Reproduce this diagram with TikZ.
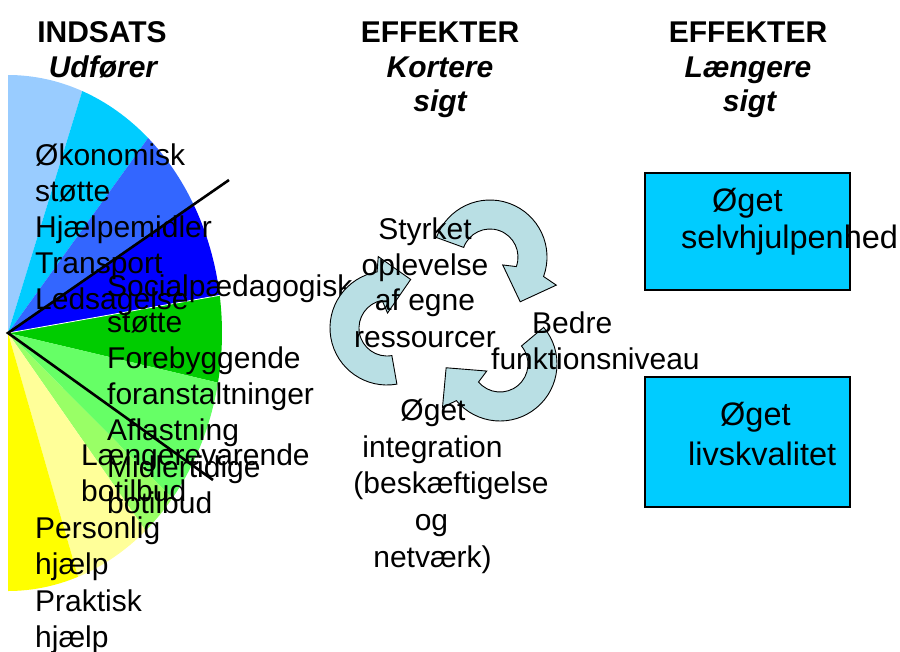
\documentclass[tikz,border=0pt]{standalone}
\usepackage{fontspec}
\setmainfont{Liberation Sans}
\definecolor{pA}{HTML}{99CCFF}
\definecolor{pB}{HTML}{00CCFF}
\definecolor{pC}{HTML}{3366FF}
\definecolor{pD}{HTML}{0000FF}
\definecolor{pE}{HTML}{00CC00}
\definecolor{pF}{HTML}{66FF66}
\definecolor{pG}{HTML}{99FF66}
\definecolor{pH}{HTML}{FFFF99}
\definecolor{pI}{HTML}{FFFF00}
\definecolor{arrowfill}{HTML}{B9DFE4}
\definecolor{boxfill}{HTML}{00CCFF}
\newcommand{\cycarrow}[3]{%
  \begin{scope}[shift={(#1,#2)}, rotate=#3]
    \draw[cyc] (160:57pt) arc[start angle=160, end angle=-20, radius=57pt]
      -- (-23:72pt) -- (-56:54pt) -- (-32:15pt) -- (-20:28pt)
      arc[start angle=-20, end angle=160, radius=28pt] -- cycle;
  \end{scope}}
\begin{document}
\begin{tikzpicture}[x=1pt,y=1pt,
  txt/.style={font=\fontsize{30}{36}\selectfont, inner sep=0pt, text=black},
  btxt/.style={txt, font=\fontsize{32.5}{38}\selectfont},
  hdr/.style={txt, font=\fontsize{30}{36}\selectfont\bfseries},
  hdri/.style={txt, font=\fontsize{30}{36}\selectfont\bfseries\itshape},
  cyc/.style={fill=arrowfill, draw=black, line width=0.9pt, line join=miter},
  effbox/.style={draw=black, fill=boxfill, line width=1.5pt, inner sep=0pt},
  divider/.style={line width=2.6pt, black, line join=miter}]
\useasboundingbox (0,0) rectangle (900,-651);

% ---------------- pie ----------------
\coordinate (pc) at (8,-333);
\begin{scope}[shift={(8,-333)}]
  \foreach \a/\b/\c in {90/69.7/pA, 69.7/49.1/pB, 49.1/30/pC, 30/8.4/pD,
      8.4/-11.1/pE, -11.1/-39.8/pF, -39.8/-50/pG, -50/-70.9/pH, -70.9/-90/pI}
    \fill[\c] (0,0) -- (\a:214pt and 258pt)
      arc[start angle=\a, end angle=\b, x radius=214pt, y radius=258pt] -- cycle;
  \draw[white, line width=0.8pt] (0,0) -- (8.4:214pt and 258pt);
\end{scope}
\coordinate (l1) at (229,-180);
\coordinate (l2) at (213,-480);
\draw[divider] (l1) -- (pc) -- (l2);

% ---------------- pie labels ----------------
\foreach \t [count=\i] in {{Økonomisk},{støtte},{Hjælpemidler},{Transport},{Ledsagelse}}
  \node[txt, anchor=base west] (ua\i) at (35,{-165-36.2*(\i-1)}) {\t};
\foreach \t [count=\i] in {{Socialpædagogisk},{støtte},{Forebyggende},{foranstaltninger},{Aflastning},{Midlertidige},{botilbud}}
  \node[txt, anchor=base west] (ub\i) at (107,{-296-36.2*(\i-1)}) {\t};
\foreach \t [count=\i] in {{Længerevarende},{botilbud}}
  \node[txt, anchor=base west] (uc\i) at (81,{-465-36*(\i-1)}) {\t};
\foreach \t [count=\i] in {{Personlig},{hjælp},{Praktisk},{hjælp}}
  \node[txt, anchor=base west] (ud\i) at (35,{-538-36.5*(\i-1)}) {\t};

% ---------------- cycle arrows ----------------
\cycarrow{490}{-257}{0}
\cycarrow{387}{-328}{120}
\cycarrow{500}{-364}{-120}

% ---------------- cycle texts ----------------
\foreach \t/\y [count=\i] in {{Styrket}/239,{oplevelse}/275,{af egne}/310,{ressourcer}/347}
  \node[txt, anchor=base] (ka\i) at (425,-\y) {\t};
\node[txt, anchor=base west] (kb1) at (532,-333) {Bedre};
\node[txt, anchor=base west] (kb2) at (491,-369) {funktionsniveau};
\node[txt, anchor=base] (kc1) at (433,-420) {Øget};
\node[txt, anchor=base] (kc2) at (432.5,-457) {integration};
\node[txt, anchor=base] (kc3) at (451,-493) {(beskæftigelse};
\node[txt, anchor=base] (kc4) at (431.5,-530) {og};
\node[txt, anchor=base] (kc5) at (432.5,-567) {netværk)};

% ---------------- headers ----------------
\node[hdr, anchor=base] (h1) at (102,-42) {INDSATS};
\node[hdri, anchor=base] (h1b) at (103,-77) {Udfører};
\node[hdr, anchor=base] (h2) at (440,-42) {EFFEKTER};
\node[hdri, anchor=base] (h2b) at (440,-77) {Kortere};
\node[hdri, anchor=base] (h2c) at (440,-111) {sigt};
\node[hdr, anchor=base] (h3) at (748,-42) {EFFEKTER};
\node[hdri, anchor=base] (h3b) at (748,-77) {Længere};
\node[hdri, anchor=base] (h3c) at (749.5,-111) {sigt};

% ---------------- effect boxes ----------------
\node[effbox, minimum width=205pt, minimum height=117pt] (bx1) at (747.5,-231.5) {};
\node[effbox, minimum width=205pt, minimum height=130pt] (bx2) at (747.5,-442) {};
\node[btxt, anchor=base west] (bt1) at (712,-211) {Øget};
\node[btxt, anchor=base west] (bt2) at (681,-248) {selvhjulpenhed};
\node[btxt, anchor=base west] (bt3) at (720,-425) {Øget};
\node[btxt, anchor=base west] (bt4) at (688,-465) {livskvalitet};
\end{tikzpicture}
\end{document}
